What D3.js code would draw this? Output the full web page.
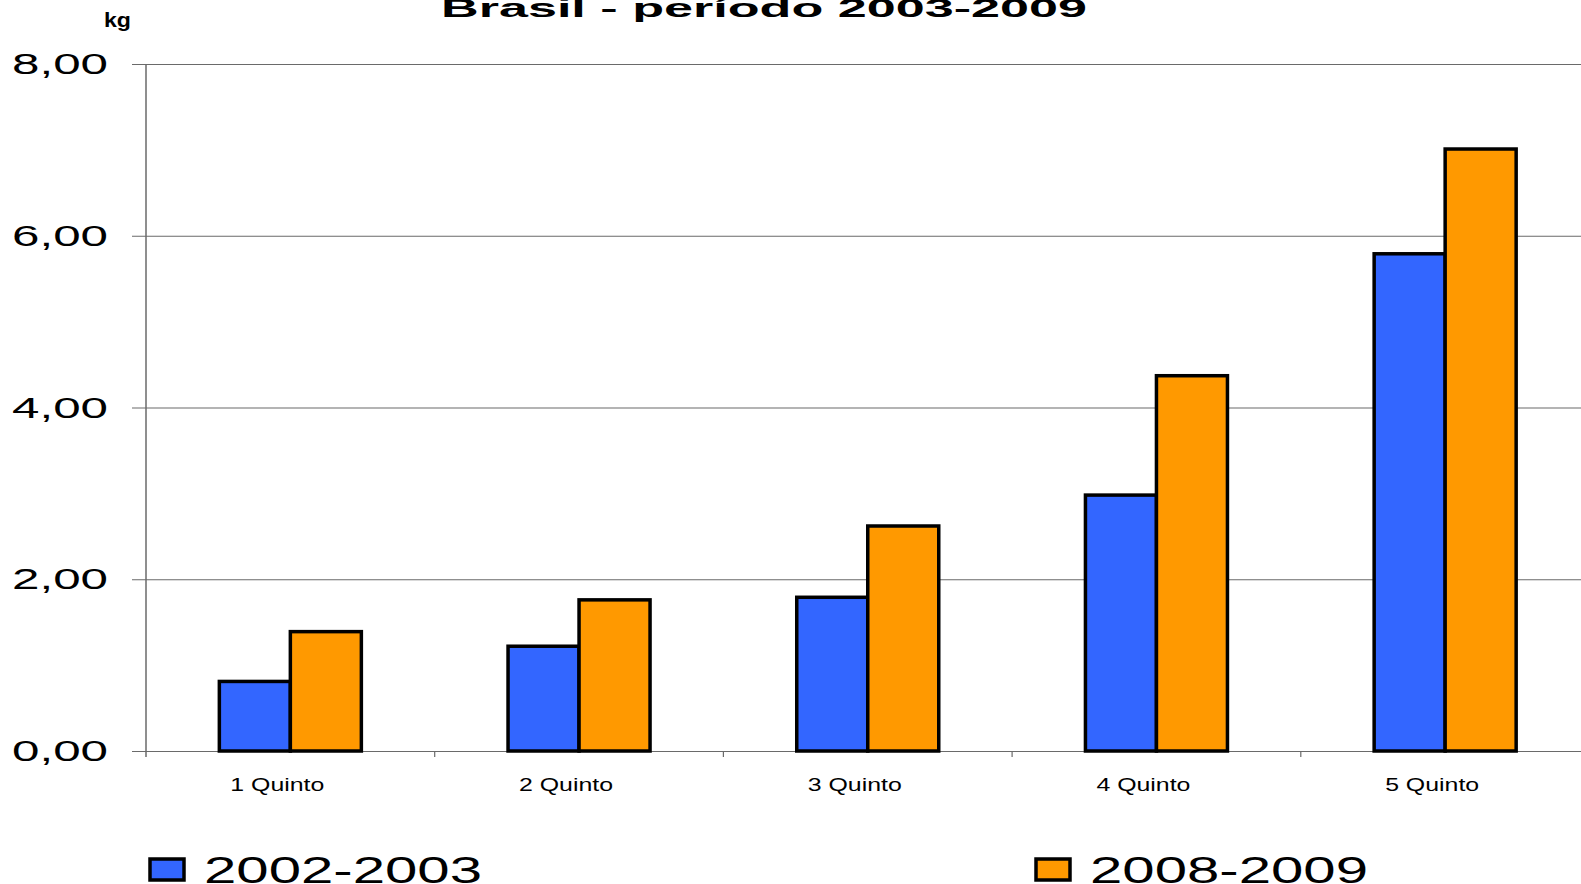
<!DOCTYPE html>
<html>
<head>
<meta charset="utf-8">
<script src="https://cdn.jsdelivr.net/npm/d3@7"></script>
<style>
  body { margin: 0; background: #fff; overflow: hidden; }
  text { font-family: "Liberation Sans", Arial, sans-serif; }
</style>
</head>
<body>
<div id="vis"></div>
<script>
///////data//////////////////////////////////////////////
var categories = ["1 Quinto", "2 Quinto", "3 Quinto", "4 Quinto", "5 Quinto"]
var series = ["2002-2003", "2008-2009"]
var values2002 = [0.81, 1.22, 1.79, 2.98, 5.79]
var values2008 = [1.39, 1.76, 2.62, 4.37, 7.01]
var yTicks = [0, 2, 4, 6, 8]
var colors = ["#3366FF", "#FF9900"]

///////setting up/////////////////////////////////////////
var width = 1581
var height = 884
var margin = {left: 146, top: 64, bottom: 133}
var plotRight = 1589.5

const svg = d3.select("#vis")
  .append("svg")
  .attr("width", width)
  .attr("height", height)

// stretch a text horizontally to a given width (the picture is widened)
function stretch(sel, len) {
  sel.attr("textLength", len).attr("lengthAdjust", "spacingAndGlyphs")
}

const x0 = d3.scaleBand()
  .domain(categories)
  .range([margin.left, plotRight])
  .padding(0)

const x1 = d3.scaleBand()
  .domain(series)
  .range([0, x0.bandwidth()])
  .paddingInner(0)
  .paddingOuter(1.033)

const y = d3.scaleLinear()
  .domain([0, 8])
  .range([height - margin.bottom, margin.top])

////////grid + y axis/////////////////////////////////////
const yAxis = svg.append("g")
  .attr("transform", `translate(${margin.left},0)`)
  .call(d3.axisLeft(y).tickValues(yTicks).tickSize(-(width - margin.left)).tickFormat(""))
yAxis.select(".domain").remove()
yAxis.selectAll(".tick line")
  .attr("x1", -14)
  .attr("stroke", "#6a6a6a")
  .attr("stroke-width", 1.2)

svg.append("line")
  .attr("x1", margin.left).attr("x2", margin.left)
  .attr("y1", y(8)).attr("y2", y(0) + 6)
  .attr("stroke", "#6a6a6a")
  .attr("stroke-width", 1.5)

svg.append("g")
  .selectAll("text")
  .data(yTicks)
  .join("text")
  .attr("x", 12)
  .attr("y", d => y(d) + 10)
  .attr("font-size", 29)
  .attr("fill", "#000")
  .text(d => d3.format(".2f")(d).replace(".", ","))
  .call(stretch, 96)

////////x axis ticks//////////////////////////////////////
svg.append("g")
  .selectAll("line")
  .data(categories.slice(1))
  .join("line")
  .attr("x1", d => x0(d)).attr("x2", d => x0(d))
  .attr("y1", y(0)).attr("y2", y(0) + 6)
  .attr("stroke", "#6a6a6a")
  .attr("stroke-width", 1.2)

svg.append("g")
  .selectAll("text")
  .data(categories)
  .join("text")
  .attr("x", d => x0(d) + x0.bandwidth() / 2 - 60)
  .attr("y", y(0) + 40)
  .attr("font-size", 18)
  .attr("fill", "#000")
  .text(d => d)
  .call(stretch, 94)

////////bars//////////////////////////////////////////////
var rows = categories.map((c, i) => ({cat: c, vals: [values2002[i], values2008[i]]}))

svg.append("g")
  .selectAll("g")
  .data(rows)
  .join("g")
  .attr("transform", d => `translate(${x0(d.cat)},0)`)
  .selectAll("rect")
  .data(d => d.vals.map((v, j) => ({s: series[j], v: v, c: colors[j]})))
  .join("rect")
  .attr("x", d => x1(d.s))
  .attr("y", d => y(d.v))
  .attr("width", x1.bandwidth())
  .attr("height", d => y(0) - y(d.v))
  .attr("fill", d => d.c)
  .attr("stroke", "#000")
  .attr("stroke-width", 3.5)

////////title + unit//////////////////////////////////////
svg.append("text")
  .attr("x", 441)
  .attr("y", 16.5)
  .attr("font-size", 25)
  .attr("font-weight", "bold")
  .text("Brasil - período 2003-2009")
  .call(stretch, 646)

svg.append("text")
  .attr("x", 104)
  .attr("y", 27)
  .attr("font-size", 20)
  .attr("font-weight", "bold")
  .text("kg")
  .call(stretch, 27)

////////legend////////////////////////////////////////////
var legendX = [150, 1036]
const legend = svg.append("g")
  .selectAll("g")
  .data(series)
  .join("g")
  .attr("transform", (d, i) => `translate(${legendX[i]},859)`)

legend.append("rect")
  .attr("width", 34)
  .attr("height", 21)
  .attr("fill", (d, i) => colors[i])
  .attr("stroke", "#000")
  .attr("stroke-width", 3.5)

legend.append("text")
  .attr("x", 54)
  .attr("y", 24)
  .attr("font-size", 36)
  .text(d => d)
  .call(stretch, 278)
</script>
</body>
</html>
